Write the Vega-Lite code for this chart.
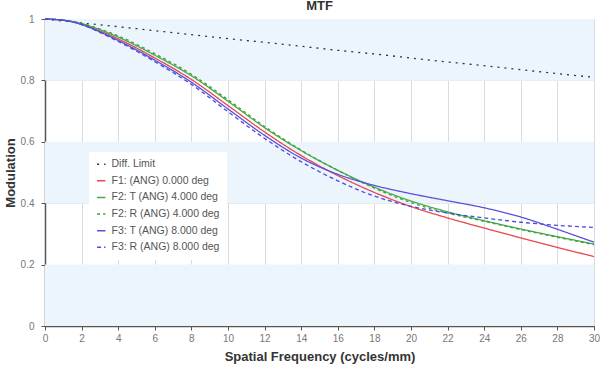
{
  "$schema": "https://vega.github.io/schema/vega-lite/v6.json",
  "autosize": "none",
  "width": 549,
  "height": 307,
  "padding": {"left": 45, "top": 19, "right": 13, "bottom": 40},
  "background": "white",
  "title": {"text": "MTF", "fontSize": 13, "font": "Liberation Sans", "fontWeight": "bold", "color": "#333", "offset": 1, "anchor": "middle"},
  "config": {
    "view": {"stroke": null},
    "font": "Liberation Sans",
    "axis": {"labelFont": "Liberation Sans", "labelFontSize": 10, "labelColor": "#777", "titleFont": "Liberation Sans", "titleFontSize": 13, "titleFontWeight": "bold", "titleColor": "#333", "domainColor": "#555", "domainWidth": 1.5, "tickColor": "#555", "tickSize": 4, "labelOverlap": false}
  },
  "datasets": {
    "bands": [
      {"y0": 0, "y1": 0.2},
      {"y0": 0.4, "y1": 0.6},
      {"y0": 0.8, "y1": 1}
    ],
    "mtf": [
      {"series": "Diff. Limit", "x": 0, "y": 1},
      {"series": "Diff. Limit", "x": 2, "y": 0.987},
      {"series": "Diff. Limit", "x": 4, "y": 0.975},
      {"series": "Diff. Limit", "x": 6, "y": 0.962},
      {"series": "Diff. Limit", "x": 8, "y": 0.949},
      {"series": "Diff. Limit", "x": 10, "y": 0.936},
      {"series": "Diff. Limit", "x": 12, "y": 0.924},
      {"series": "Diff. Limit", "x": 14, "y": 0.911},
      {"series": "Diff. Limit", "x": 16, "y": 0.898},
      {"series": "Diff. Limit", "x": 18, "y": 0.886},
      {"series": "Diff. Limit", "x": 20, "y": 0.873},
      {"series": "Diff. Limit", "x": 22, "y": 0.86},
      {"series": "Diff. Limit", "x": 24, "y": 0.848},
      {"series": "Diff. Limit", "x": 26, "y": 0.835},
      {"series": "Diff. Limit", "x": 28, "y": 0.822},
      {"series": "Diff. Limit", "x": 30, "y": 0.81},

      {"series": "F1: (ANG) 0.000 deg", "x": 0, "y": 1},
      {"series": "F1: (ANG) 0.000 deg", "x": 1, "y": 0.996},
      {"series": "F1: (ANG) 0.000 deg", "x": 2, "y": 0.983},
      {"series": "F1: (ANG) 0.000 deg", "x": 4, "y": 0.935},
      {"series": "F1: (ANG) 0.000 deg", "x": 6, "y": 0.873},
      {"series": "F1: (ANG) 0.000 deg", "x": 8, "y": 0.803},
      {"series": "F1: (ANG) 0.000 deg", "x": 10, "y": 0.718},
      {"series": "F1: (ANG) 0.000 deg", "x": 12, "y": 0.632},
      {"series": "F1: (ANG) 0.000 deg", "x": 14, "y": 0.555},
      {"series": "F1: (ANG) 0.000 deg", "x": 16, "y": 0.49},
      {"series": "F1: (ANG) 0.000 deg", "x": 18, "y": 0.435},
      {"series": "F1: (ANG) 0.000 deg", "x": 20, "y": 0.389},
      {"series": "F1: (ANG) 0.000 deg", "x": 22, "y": 0.352},
      {"series": "F1: (ANG) 0.000 deg", "x": 24, "y": 0.319},
      {"series": "F1: (ANG) 0.000 deg", "x": 26, "y": 0.287},
      {"series": "F1: (ANG) 0.000 deg", "x": 28, "y": 0.256},
      {"series": "F1: (ANG) 0.000 deg", "x": 30, "y": 0.226},

      {"series": "F2: T (ANG) 4.000 deg", "x": 0, "y": 1},
      {"series": "F2: T (ANG) 4.000 deg", "x": 1, "y": 0.996},
      {"series": "F2: T (ANG) 4.000 deg", "x": 2, "y": 0.985},
      {"series": "F2: T (ANG) 4.000 deg", "x": 4, "y": 0.941},
      {"series": "F2: T (ANG) 4.000 deg", "x": 6, "y": 0.882},
      {"series": "F2: T (ANG) 4.000 deg", "x": 8, "y": 0.815},
      {"series": "F2: T (ANG) 4.000 deg", "x": 10, "y": 0.732},
      {"series": "F2: T (ANG) 4.000 deg", "x": 12, "y": 0.646},
      {"series": "F2: T (ANG) 4.000 deg", "x": 14, "y": 0.571},
      {"series": "F2: T (ANG) 4.000 deg", "x": 16, "y": 0.507},
      {"series": "F2: T (ANG) 4.000 deg", "x": 18, "y": 0.452},
      {"series": "F2: T (ANG) 4.000 deg", "x": 20, "y": 0.407},
      {"series": "F2: T (ANG) 4.000 deg", "x": 22, "y": 0.372},
      {"series": "F2: T (ANG) 4.000 deg", "x": 24, "y": 0.343},
      {"series": "F2: T (ANG) 4.000 deg", "x": 26, "y": 0.316},
      {"series": "F2: T (ANG) 4.000 deg", "x": 28, "y": 0.291},
      {"series": "F2: T (ANG) 4.000 deg", "x": 30, "y": 0.267},

      {"series": "F2: R (ANG) 4.000 deg", "x": 0, "y": 1},
      {"series": "F2: R (ANG) 4.000 deg", "x": 1, "y": 0.996},
      {"series": "F2: R (ANG) 4.000 deg", "x": 2, "y": 0.986},
      {"series": "F2: R (ANG) 4.000 deg", "x": 4, "y": 0.945},
      {"series": "F2: R (ANG) 4.000 deg", "x": 6, "y": 0.887},
      {"series": "F2: R (ANG) 4.000 deg", "x": 8, "y": 0.82},
      {"series": "F2: R (ANG) 4.000 deg", "x": 10, "y": 0.737},
      {"series": "F2: R (ANG) 4.000 deg", "x": 12, "y": 0.65},
      {"series": "F2: R (ANG) 4.000 deg", "x": 14, "y": 0.573},
      {"series": "F2: R (ANG) 4.000 deg", "x": 16, "y": 0.507},
      {"series": "F2: R (ANG) 4.000 deg", "x": 18, "y": 0.449},
      {"series": "F2: R (ANG) 4.000 deg", "x": 20, "y": 0.402},
      {"series": "F2: R (ANG) 4.000 deg", "x": 22, "y": 0.368},
      {"series": "F2: R (ANG) 4.000 deg", "x": 24, "y": 0.341},
      {"series": "F2: R (ANG) 4.000 deg", "x": 26, "y": 0.314},
      {"series": "F2: R (ANG) 4.000 deg", "x": 28, "y": 0.289},
      {"series": "F2: R (ANG) 4.000 deg", "x": 30, "y": 0.265},

      {"series": "F3: T (ANG) 8.000 deg", "x": 0, "y": 1},
      {"series": "F3: T (ANG) 8.000 deg", "x": 1, "y": 0.996},
      {"series": "F3: T (ANG) 8.000 deg", "x": 2, "y": 0.982},
      {"series": "F3: T (ANG) 8.000 deg", "x": 4, "y": 0.93},
      {"series": "F3: T (ANG) 8.000 deg", "x": 6, "y": 0.866},
      {"series": "F3: T (ANG) 8.000 deg", "x": 8, "y": 0.794},
      {"series": "F3: T (ANG) 8.000 deg", "x": 10, "y": 0.707},
      {"series": "F3: T (ANG) 8.000 deg", "x": 12, "y": 0.621},
      {"series": "F3: T (ANG) 8.000 deg", "x": 14, "y": 0.547},
      {"series": "F3: T (ANG) 8.000 deg", "x": 16, "y": 0.494},
      {"series": "F3: T (ANG) 8.000 deg", "x": 18, "y": 0.458},
      {"series": "F3: T (ANG) 8.000 deg", "x": 20, "y": 0.431},
      {"series": "F3: T (ANG) 8.000 deg", "x": 22, "y": 0.408},
      {"series": "F3: T (ANG) 8.000 deg", "x": 24, "y": 0.385},
      {"series": "F3: T (ANG) 8.000 deg", "x": 26, "y": 0.355},
      {"series": "F3: T (ANG) 8.000 deg", "x": 28, "y": 0.315},
      {"series": "F3: T (ANG) 8.000 deg", "x": 30, "y": 0.273},

      {"series": "F3: R (ANG) 8.000 deg", "x": 0, "y": 1},
      {"series": "F3: R (ANG) 8.000 deg", "x": 1, "y": 0.996},
      {"series": "F3: R (ANG) 8.000 deg", "x": 2, "y": 0.982},
      {"series": "F3: R (ANG) 8.000 deg", "x": 4, "y": 0.927},
      {"series": "F3: R (ANG) 8.000 deg", "x": 6, "y": 0.861},
      {"series": "F3: R (ANG) 8.000 deg", "x": 8, "y": 0.787},
      {"series": "F3: R (ANG) 8.000 deg", "x": 10, "y": 0.698},
      {"series": "F3: R (ANG) 8.000 deg", "x": 12, "y": 0.611},
      {"series": "F3: R (ANG) 8.000 deg", "x": 14, "y": 0.535},
      {"series": "F3: R (ANG) 8.000 deg", "x": 16, "y": 0.473},
      {"series": "F3: R (ANG) 8.000 deg", "x": 18, "y": 0.423},
      {"series": "F3: R (ANG) 8.000 deg", "x": 20, "y": 0.39},
      {"series": "F3: R (ANG) 8.000 deg", "x": 22, "y": 0.368},
      {"series": "F3: R (ANG) 8.000 deg", "x": 24, "y": 0.352},
      {"series": "F3: R (ANG) 8.000 deg", "x": 26, "y": 0.338},
      {"series": "F3: R (ANG) 8.000 deg", "x": 28, "y": 0.328},
      {"series": "F3: R (ANG) 8.000 deg", "x": 30, "y": 0.321}
    ]
  },
  "layer": [
    {
      "data": {"name": "bands"},
      "mark": {"type": "rect", "color": "#edf5fc"},
      "encoding": {
        "x": {
          "datum": 0, "type": "quantitative", "scale": {"domain": [0, 30], "nice": false},
          "axis": {"title": "Spatial Frequency (cycles/mm)", "values": [0,2,4,6,8,10,12,14,16,18,20,22,24,26,28,30], "grid": true, "gridColor": "#d6dbe0", "labelPadding": 3, "titlePadding": 7, "labelFlush": false, "labelOverlap": false, "labelBound": false}
        },
        "x2": {"datum": 30},
        "y": {
          "field": "y0", "type": "quantitative", "scale": {"domain": [0, 1], "nice": false},
          "axis": {"title": "Modulation", "values": [0, 0.2, 0.4, 0.6, 0.8, 1], "format": "~g", "grid": true, "gridColor": "#e2e6ea", "labelPadding": 7, "titlePadding": 3, "labelOverlap": false}
        },
        "y2": {"field": "y1"}
      }
    },
    {
      "data": {"name": "mtf"},
      "mark": {"type": "line", "strokeWidth": 1.3, "interpolate": "catmull-rom"},
      "encoding": {
        "x": {
          "field": "x", "type": "quantitative",
          "scale": {"domain": [0, 30], "nice": false},
          "axis": {"title": "Spatial Frequency (cycles/mm)", "values": [0,2,4,6,8,10,12,14,16,18,20,22,24,26,28,30], "grid": true, "gridColor": "#d6dbe0", "labelPadding": 3, "titlePadding": 7, "labelFlush": false, "labelOverlap": false, "labelBound": false}
        },
        "y": {
          "field": "y", "type": "quantitative",
          "scale": {"domain": [0, 1], "nice": false},
          "axis": {"title": "Modulation", "values": [0, 0.2, 0.4, 0.6, 0.8, 1], "format": "~g", "grid": true, "gridColor": "#e2e6ea", "labelPadding": 7, "titlePadding": 3, "labelOverlap": false}
        },
        "color": {
          "field": "series", "type": "nominal",
          "scale": {
            "domain": ["Diff. Limit", "F1: (ANG) 0.000 deg", "F2: T (ANG) 4.000 deg", "F2: R (ANG) 4.000 deg", "F3: T (ANG) 8.000 deg", "F3: R (ANG) 8.000 deg"],
            "range": ["#333333", "#e8474c", "#4aa84a", "#3f9f3f", "#5a50dc", "#4a4ae0"]
          },
          "legend": {
            "title": null, "orient": "none", "legendX": 44, "legendY": 133,
            "fillColor": "white", "padding": 7, "symbolType": "stroke", "symbolSize": 70, "symbolStrokeWidth": 1.5,
            "labelFontSize": 10.5, "labelColor": "#555", "labelFont": "Liberation Sans", "rowPadding": 5.6, "labelOffset": 5
          }
        },
        "strokeDash": {
          "field": "series", "type": "nominal",
          "scale": {
            "domain": ["Diff. Limit", "F1: (ANG) 0.000 deg", "F2: T (ANG) 4.000 deg", "F2: R (ANG) 4.000 deg", "F3: T (ANG) 8.000 deg", "F3: R (ANG) 8.000 deg"],
            "range": [[2, 5], [1, 0], [1, 0], [3, 3], [1, 0], [4, 3]]
          },
          "legend": {
            "title": null, "orient": "none", "legendX": 44, "legendY": 133,
            "fillColor": "white", "padding": 7, "symbolType": "stroke", "symbolSize": 70, "symbolStrokeWidth": 1.5,
            "labelFontSize": 10.5, "labelColor": "#555", "labelFont": "Liberation Sans", "rowPadding": 5.6, "labelOffset": 5
          }
        }
      }
    }
  ]
}
